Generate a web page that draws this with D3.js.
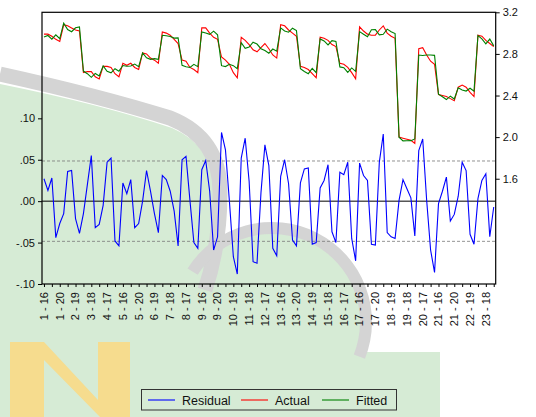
<!DOCTYPE html>
<html>
<head>
<meta charset="utf-8">
<script src="https://cdn.jsdelivr.net/npm/d3@7"></script>
<style>
html,body{margin:0;padding:0;background:#fff;}
svg{display:block;}
text{font-family:"Liberation Sans",Arial,sans-serif;}
</style>
</head>
<body>
<svg id="chart" width="536" height="417"></svg>
<script>
// ---------- data ----------
const crossSections = d3.range(1, 24);            // 1..23
const periods = [16, 17, 18, 19, 20];
const obsLabels = [];
crossSections.forEach(c => periods.forEach(p => obsLabels.push(c + " - " + p)));

const tickLabels = ["1 - 16","1 - 20","2 - 19","3 - 18","4 - 17","5 - 16","5 - 20","6 - 19","7 - 18","8 - 17",
  "9 - 16","9 - 20","10 - 19","11 - 18","12 - 17","13 - 16","13 - 20","14 - 19","15 - 18","16 - 17",
  "17 - 16","17 - 20","18 - 19","19 - 18","20 - 17","21 - 16","21 - 20","22 - 19","23 - 18"];

const residual = [
 0.027,0.013,0.028,-0.044,-0.027, -0.015,0.036,0.037,-0.021,-0.039,
 -0.015,0.020,0.055,-0.032,-0.028, -0.005,0.047,0.052,-0.048,-0.054,
 0.022,0.009,0.026,-0.032,-0.027, 0.000,0.037,0.012,-0.015,-0.038,
 0.031,0.026,0.012,-0.012,-0.054, 0.050,0.054,0.001,-0.050,-0.057,
 0.038,0.049,0.012,-0.059,-0.043, 0.083,0.062,0.000,-0.067,-0.088,
 0.052,0.076,0.024,-0.073,-0.075, 0.010,0.068,0.043,-0.057,-0.066,
 0.030,0.050,0.021,-0.047,-0.054, 0.022,0.039,0.040,-0.052,-0.050,
 0.016,0.025,0.044,-0.037,-0.050, 0.035,0.032,0.047,-0.045,-0.072,
 0.046,0.031,0.025,-0.052,-0.053, 0.047,0.081,-0.038,-0.043,-0.045,
 0.001,0.026,0.015,0.004,-0.042, 0.061,0.075,0.001,-0.059,-0.086,
 -0.003,0.012,0.029,-0.024,-0.016, 0.006,0.047,0.037,-0.040,-0.052,
 0.003,0.025,0.033,-0.043,-0.007];

const actual = [
 2.99,2.99,2.97,2.94,2.92, 3.08,3.07,3.05,3.03,3.02,
 2.62,2.63,2.63,2.58,2.56, 2.68,2.68,2.67,2.61,2.58,
 2.71,2.69,2.71,2.67,2.65, 2.81,2.80,2.76,2.74,2.71,
 3.01,3.00,2.98,2.94,2.90, 2.74,2.73,2.67,2.65,2.62,
 3.05,3.05,3.00,2.96,2.94, 2.77,2.74,2.70,2.62,2.57,
 2.96,2.93,2.89,2.84,2.82, 2.86,2.90,2.85,2.79,2.76,
 3.08,3.07,3.03,3.00,2.97, 2.68,2.67,2.65,2.61,2.57,
 2.96,2.95,2.93,2.89,2.87, 2.71,2.70,2.67,2.62,2.56,
 3.06,3.02,2.99,2.98,2.98, 3.03,3.07,3.00,2.97,2.95,
 2.00,1.99,1.98,1.97,1.94, 2.85,2.86,2.79,2.73,2.70,
 2.41,2.40,2.39,2.37,2.35, 2.48,2.50,2.48,2.43,2.39,
 2.98,2.97,2.93,2.90,2.87];

const fitted = [
 2.963,2.977,2.942,2.984,2.947, 3.095,3.034,3.013,3.051,3.059,
 2.635,2.610,2.575,2.612,2.588, 2.685,2.633,2.618,2.658,2.634,
 2.688,2.681,2.684,2.702,2.677, 2.810,2.763,2.748,2.755,2.748,
 2.979,2.974,2.968,2.952,2.954, 2.690,2.676,2.669,2.700,2.677,
 3.012,3.001,2.988,3.019,2.983, 2.687,2.678,2.700,2.687,2.658,
 2.908,2.854,2.866,2.913,2.895, 2.850,2.832,2.807,2.847,2.826,
 3.050,3.020,3.009,3.047,3.024, 2.658,2.631,2.610,2.662,2.620,
 2.944,2.925,2.886,2.927,2.920, 2.675,2.668,2.623,2.665,2.632,
 3.014,2.989,2.965,3.032,3.033, 2.983,2.989,3.038,3.013,2.995,
 1.999,1.964,1.965,1.966,1.982, 2.789,2.785,2.789,2.789,2.786,
 2.413,2.388,2.361,2.394,2.366, 2.474,2.453,2.443,2.470,2.442,
 2.977,2.945,2.897,2.943,2.877];

const leftTicks = [-0.10, -0.05, 0.00, 0.05, 0.10];
const leftTickLabels = ["-.10", "-.05", ".00", ".05", ".10"];
const rightTicks = [1.6, 2.0, 2.4, 2.8, 3.2];
const rightTickLabels = ["1.6", "2.0", "2.4", "2.8", "3.2"];
const seBand = 0.0485;
const legendItems = [
  {name: "Residual", color: "#0000ff"},
  {name: "Actual", color: "#ff0000"},
  {name: "Fitted", color: "#008000"}];

// ---------- layout ----------
const svg = d3.select("#chart");
const L = 42, R = 495.7, T = 12.3, B = 284;

// ---------- faint watermark-like background ----------
const bg = svg.append("g");
const green = "#d6ebd5", grey = "#d4d4d4";
bg.append("path").attr("fill", green)
  .attr("d", "M0,84 Q100,104 172,128 Q214,146 214,192 Q214,250 200,300 L0,300 Z");
bg.append("circle").attr("cx", 272).attr("cy", 322).attr("r", 93).attr("fill", green);
bg.append("rect").attr("x", 0).attr("y", 296).attr("width", 280).attr("height", 121).attr("fill", green);
bg.append("rect").attr("x", 0).attr("y", 352).attr("width", 440).attr("height", 65).attr("fill", green);
// arc bands
bg.append("path").attr("fill", "none").attr("stroke", grey).attr("stroke-width", 15)
  .attr("d", "M0,74 Q100,96 170,118 Q220,138 220,192 Q220,245 205,290");
const arc = d3.arc().innerRadius(88).outerRadius(100).startAngle(-Math.PI * 0.32).endAngle(Math.PI * 0.62);
bg.append("path").attr("transform", "translate(272,322)").attr("d", arc()).attr("fill", grey);
// pale letter shape at bottom-left
bg.append("path").attr("fill", "#f6dc8e")
  .attr("d", "M10,342 L44,342 L98,400 L98,342 L130,342 L130,417 L100,417 L44,360 L44,417 L10,417 Z");

const x = d3.scaleLinear().domain([-0.5, obsLabels.length - 0.5]).range([L, R]);
const yL = d3.scaleLinear().domain([-0.1, 0.228]).range([B, T]);
const yR = d3.scaleLinear().domain([0.588, 3.2]).range([B, T]);

// reference lines
svg.append("line").attr("x1", L).attr("x2", R).attr("y1", yL(0)).attr("y2", yL(0))
  .attr("stroke", "#000").attr("stroke-width", 1);
[seBand, -seBand].forEach(v => {
  svg.append("line").attr("x1", L).attr("x2", R).attr("y1", yL(v)).attr("y2", yL(v))
    .attr("stroke", "#777").attr("stroke-width", 0.8).attr("stroke-dasharray", "3,2");
});

// series
const lineL = d3.line().x((d, i) => x(i)).y(d => yL(d));
const lineR = d3.line().x((d, i) => x(i)).y(d => yR(d));
svg.append("path").datum(residual).attr("d", lineL).attr("fill", "none")
  .attr("stroke", legendItems[0].color).attr("stroke-width", 1.1);
svg.append("path").datum(actual).attr("d", lineR).attr("fill", "none")
  .attr("stroke", legendItems[1].color).attr("stroke-width", 1.1);
svg.append("path").datum(fitted).attr("d", lineR).attr("fill", "none")
  .attr("stroke", legendItems[2].color).attr("stroke-width", 1.1);

// frame
svg.append("rect").attr("x", L).attr("y", T).attr("width", R - L).attr("height", B - T)
  .attr("fill", "none").attr("stroke", "#000").attr("stroke-width", 1.2);

// left axis
const gL = svg.append("g").attr("transform", `translate(${L},0)`)
  .call(d3.axisLeft(yL).tickValues(leftTicks).tickSize(4).tickPadding(3)
    .tickFormat((d, i) => leftTickLabels[i]));
// right axis
const gR = svg.append("g").attr("transform", `translate(${R},0)`)
  .call(d3.axisRight(yR).tickValues(rightTicks).tickSize(4).tickPadding(3)
    .tickFormat((d, i) => rightTickLabels[i]));
// bottom axis ticks
const minorTicks = d3.range(0, obsLabels.length, 2);
const gB = svg.append("g").attr("transform", `translate(0,${B})`)
  .call(d3.axisBottom(x).tickValues(minorTicks).tickSize(3).tickFormat(""));
[gL, gR, gB].forEach(g => {
  g.select(".domain").remove();
  g.selectAll(".tick line").attr("stroke", "#000");
  g.selectAll("text").attr("font-size", 11).attr("fill", "#111")
    .attr("font-family", '"Liberation Sans", Arial, sans-serif');
});

// rotated x labels
svg.append("g").selectAll("text").data(tickLabels).join("text")
  .attr("transform", d => `translate(${x(obsLabels.indexOf(d))},292) rotate(-90)`)
  .attr("text-anchor", "end").attr("dy", "0.35em")
  .attr("font-size", 11).attr("fill", "#111").text(d => d);

// legend
const lg = svg.append("g");
lg.append("rect").attr("x", 141.5).attr("y", 389.5).attr("width", 255).attr("height", 20.5)
  .attr("fill", "none").attr("stroke", "#333").attr("stroke-width", 1);
const lx = [148, 241, 322];
legendItems.forEach((d, i) => {
  lg.append("line").attr("x1", lx[i]).attr("x2", lx[i] + 27).attr("y1", 400).attr("y2", 400)
    .attr("stroke", d.color).attr("stroke-width", 1.1);
  lg.append("text").attr("x", lx[i] + 34).attr("y", 404.5).attr("font-size", 12.5)
    .attr("fill", "#111").text(d.name);
});
</script>
</body>
</html>
